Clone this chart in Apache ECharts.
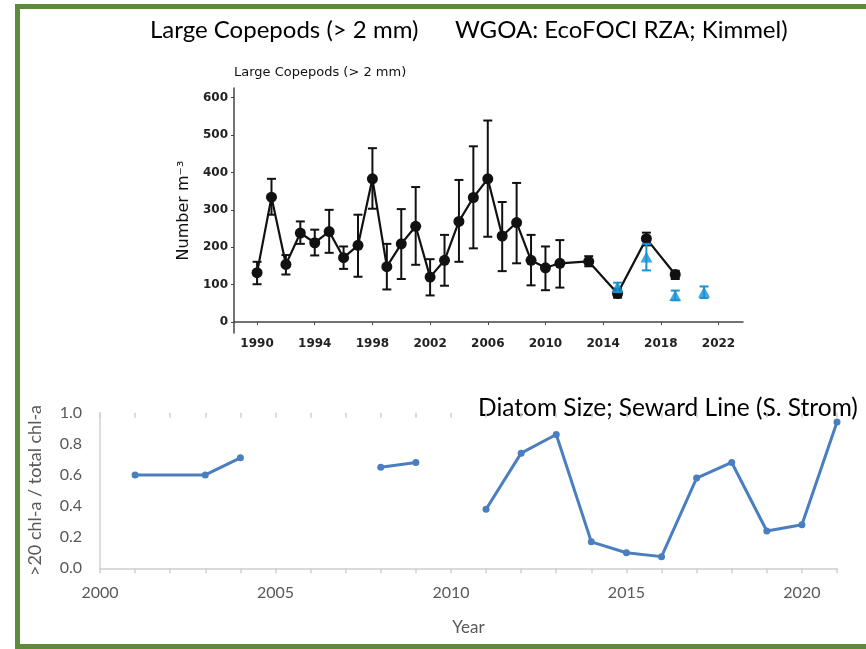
<!DOCTYPE html>
<html>
<head>
<meta charset="utf-8">
<script src="https://cdn.jsdelivr.net/npm/echarts@6/dist/echarts.min.js"></script>
<style>
html,body{margin:0;padding:0;background:#fff;}
#c{width:866px;height:649px;}
</style>
</head>
<body>
<div id="c"></div>
<script>
// Large copepods (black, with error bars)
var copeYears = [1990,1991,1992,1993,1994,1995,1996,1997,1998,1999,2000,2001,2002,2003,2004,2005,2006,2007,2008,2009,2010,2011,2013,2015,2017,2019];
var copeMean  = [132,334,154,238,212,242,172,205,383,148,209,256,120,165,269,333,383,230,266,165,145,157,162,76,223,127];
var copeLow   = [101,287,127,209,178,185,142,121,303,87,115,153,71,97,161,197,228,136,157,98,85,92,149,65,205,115];
var copeHigh  = [161,383,179,269,247,300,202,287,465,209,302,361,168,233,380,470,539,321,372,233,202,219,176,89,239,137];
// Blue triangles
var blueYears = [2015,2017,2019,2021];
var blueMean  = [94,174,71,80];
var blueLow   = [80,138,58,64];
var blueHigh  = [105,209,84,95];
// Tick labels
var copeXTicks = [1990,1994,1998,2002,2006,2010,2014,2018,2022];
var copeYTicks = [0,100,200,300,400,500,600];
// Diatom size ratio (null = line break)
var diatomYears  = [2001,2003,2004,2006,2008,2009,2010,2011,2012,2013,2014,2015,2016,2017,2018,2019,2020,2021];
var diatomValues = [0.60,0.60,0.71,null,0.65,0.68,null,0.38,0.74,0.86,0.17,0.10,0.075,0.58,0.68,0.24,0.28,0.94];
var diatomXTicks = [2000,2005,2010,2015,2020];

function pairs(xs, ys){ return xs.map(function(x,i){ return [x, ys[i]]; }); }
function errData(xs, lo, hi){ return xs.map(function(x,i){ return [x, lo[i], hi[i]]; }); }
function plain(v){ return String(v); }
function errRender(color){
  return function(params, api){
    var x = api.value(0);
    var p1 = api.coord([x, api.value(1)]);
    var p2 = api.coord([x, api.value(2)]);
    var hw = 4.5;
    var st = {stroke: color, lineWidth: 2};
    return {type:'group', children:[
      {type:'line', shape:{x1:p1[0],y1:p1[1],x2:p2[0],y2:p2[1]}, style:st},
      {type:'line', shape:{x1:p1[0]-hw,y1:p1[1],x2:p1[0]+hw,y2:p1[1]}, style:st},
      {type:'line', shape:{x1:p2[0]-hw,y1:p2[1],x2:p2[0]+hw,y2:p2[1]}, style:st}
    ]};
  };
}

var chart = echarts.init(document.getElementById('c'));
var topLabel = {fontFamily:'DejaVu Sans', fontWeight:'bold', fontSize:12, color:'#222', formatter:plain};
var grayText = '#595959';
var option = {
  animation:false,
  backgroundColor:'#fff',
  graphic:[
    {type:'rect', shape:{x:17.5,y:6.5,width:900,height:640}, style:{fill:null, stroke:'#5e8a3c', lineWidth:5}, z:10},
    {type:'text', left:150, top:18, style:{text:'Large Copepods (> 2 mm)', font:'24px Lato', fill:'#000'}},
    {type:'text', left:455, top:18, style:{text:'WGOA: EcoFOCI RZA; Kimmel)', font:'24px Lato', fill:'#000'}},
    {type:'text', left:234, top:66, style:{text:'Large Copepods (> 2 mm)', font:'13px "DejaVu Sans"', fill:'#111'}},
    {type:'text', left:478, top:396, style:{text:'Diatom Size; Seward Line (S. Strom)', font:'24.5px Lato', fill:'#000'}}
  ],
  grid:[
    {left:234, right:123, top:88, bottom:316},
    {left:100, right:29, top:412.7, bottom:80.7}
  ],
  xAxis:[
    {gridIndex:0, type:'value', min:1988.4, max:2023.7,
     axisLine:{lineStyle:{color:'#444', width:1.5}},
     axisTick:{length:3, lineStyle:{color:'#444'}, customValues:copeXTicks},
     axisLabel:Object.assign({margin:5, customValues:copeXTicks}, topLabel),
     splitLine:{show:false}},
    {gridIndex:1, type:'value', min:2000, max:2021, interval:1,
     name:'Year', nameLocation:'middle', nameGap:51,
     nameTextStyle:{fontFamily:'Lato', fontSize:17, color:grayText},
     axisLine:{lineStyle:{color:'#d0d0d0', width:1.5}},
     axisTick:{length:5, lineStyle:{color:'#d0d0d0', width:1.5}},
     axisLabel:{margin:17, customValues:diatomXTicks, fontFamily:'Lato', fontSize:16, color:grayText, formatter:plain},
     splitLine:{show:false}},
    {gridIndex:1, type:'value', min:2000, max:2021, interval:1,
     axisLine:{show:false},
     axisTick:{inside:true, length:5, lineStyle:{color:'#d0d0d0', width:1.5}},
     axisLabel:{show:false}, splitLine:{show:false}}
  ],
  yAxis:[
    {gridIndex:0, type:'value', min:-29.5, max:626,
     name:'Number m\u207B\u00B3', nameLocation:'middle', nameGap:41, nameRotate:90,
     nameTextStyle:{fontFamily:'DejaVu Sans', fontSize:16, color:'#111'},
     axisLine:{show:true, lineStyle:{color:'#444', width:1.5}},
     axisTick:{show:true, length:3, lineStyle:{color:'#444'}, customValues:copeYTicks},
     axisLabel:Object.assign({margin:6, customValues:copeYTicks}, topLabel),
     splitLine:{show:false}},
    {gridIndex:1, type:'value', min:0, max:1, interval:0.2,
     name:'>20 chl-a / total chl-a', nameLocation:'middle', nameGap:56, nameRotate:90,
     nameTextStyle:{fontFamily:'Lato', fontSize:18, color:grayText},
     axisLine:{show:true, lineStyle:{color:'#d0d0d0', width:1.5}},
     axisTick:{show:false},
     axisLabel:{margin:18, fontFamily:'Lato', fontSize:16, color:grayText,
       formatter:function(v){ return v.toFixed(1); }},
     splitLine:{show:false}}
  ],
  series:[
    {type:'custom', xAxisIndex:0, yAxisIndex:0, renderItem:errRender('#111'),
     data:errData(copeYears, copeLow, copeHigh), z:2},
    {type:'line', xAxisIndex:0, yAxisIndex:0, data:pairs(copeYears, copeMean),
     symbol:'circle', symbolSize:11, lineStyle:{color:'#111', width:2.2},
     itemStyle:{color:'#111'}, z:3},
    {type:'custom', xAxisIndex:0, yAxisIndex:0, renderItem:errRender('#1792d4'),
     data:errData(blueYears, blueLow, blueHigh), z:4},
    {type:'scatter', xAxisIndex:0, yAxisIndex:0, data:pairs(blueYears, blueMean),
     symbol:'triangle', symbolSize:[12,11], itemStyle:{color:'#1792d4'}, z:5},
    {type:'line', xAxisIndex:1, yAxisIndex:1, data:pairs(diatomYears, diatomValues),
     connectNulls:false, symbol:'circle', symbolSize:7,
     lineStyle:{color:'#4a7ebf', width:3}, itemStyle:{color:'#4a7ebf'}, z:3}
  ]
};
chart.setOption(option);
</script>
</body>
</html>
